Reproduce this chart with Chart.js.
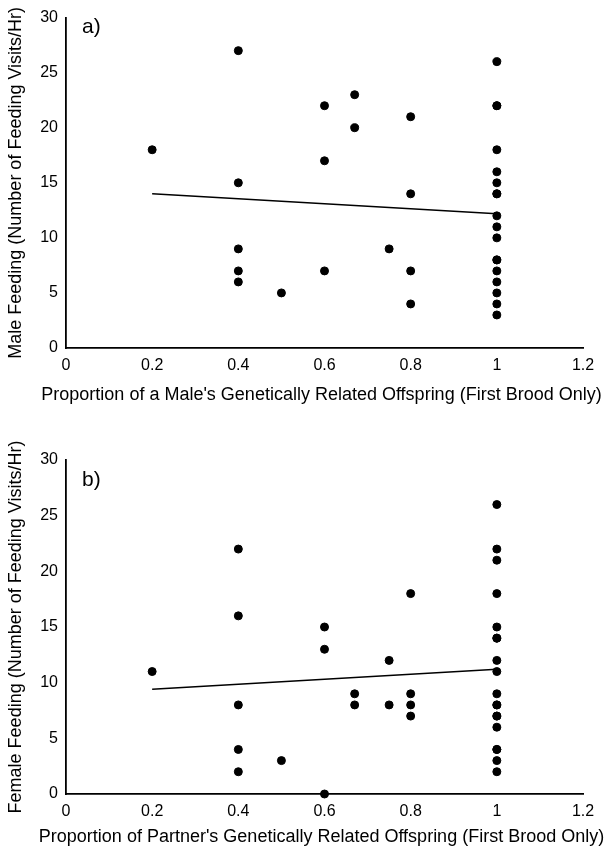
<!DOCTYPE html>
<html>
<head>
<meta charset="utf-8">
<script src="https://cdn.jsdelivr.net/npm/chart.js@4.4.1/dist/chart.umd.min.js"></script>
<style>
  body { margin: 0; background: #fff; }
  canvas { display: block; }
</style>
</head>
<body>
<canvas id="maleChart" width="605" height="415"></canvas>
<canvas id="femaleChart" width="605" height="435"></canvas>
<script>
// tick labels
const xTickLabels = ['0', '0.2', '0.4', '0.6', '0.8', '1', '1.2'];

// a) male feeding vs proportion of own offspring
const maleX = [0.2, 0.4, 0.4, 0.4, 0.4, 0.4, 0.5, 0.6, 0.6, 0.6, 0.67, 0.67, 0.75,
  0.8, 0.8, 0.8, 0.8,
  1, 1, 1, 1, 1, 1, 1, 1, 1, 1, 1, 1, 1, 1, 1, 1, 1, 1];
const maleY = [18, 27, 15, 9, 7, 6, 5, 22, 17, 7, 23, 20, 9,
  21, 14, 7, 4,
  26, 22, 22, 18, 16, 15, 14, 14, 12, 11, 10, 8, 8, 7, 6, 5, 4, 3];
const maleFitX = [0.2, 1];
const maleFitY = [14.0, 12.2];

// b) female feeding vs proportion of partner's offspring
const femaleX = [0.2, 0.4, 0.4, 0.4, 0.4, 0.4, 0.5, 0.6, 0.6, 0.6, 0.67, 0.67, 0.75, 0.75,
  0.8, 0.8, 0.8, 0.8,
  1, 1, 1, 1, 1, 1, 1, 1, 1, 1, 1, 1, 1, 1, 1, 1, 1, 1, 1];
const femaleY = [11, 22, 16, 8, 4, 2, 3, 15, 13, 0, 9, 8, 12, 8,
  18, 9, 8, 7,
  26, 22, 21, 18, 15, 14, 14, 12, 11, 9, 8, 8, 7, 7, 6, 4, 4, 3, 2];
const femaleFitX = [0.2, 1];
const femaleFitY = [9.4, 11.2];

const FONT = "'Liberation Sans', Arial, sans-serif";

function toPoints(xs, ys) {
  return xs.map((x, i) => ({ x: x, y: ys[i] }));
}

// panel letter and axis titles, drawn by hand so the long titles are not squeezed
// to the width of the plot area like the built-in scale titles are
const panelText = {
  id: 'panelText',
  afterDraw(chart, args, opts) {
    const ctx = chart.ctx;
    const area = chart.chartArea;
    ctx.save();
    ctx.fillStyle = '#000';
    ctx.textBaseline = 'middle';

    ctx.font = '21px ' + FONT;
    ctx.textAlign = 'left';
    ctx.fillText(opts.label, area.left + 16, area.top + opts.labelDy);

    ctx.font = '18px ' + FONT;
    ctx.textAlign = 'center';
    ctx.fillText(opts.xTitle, (area.left + area.right) / 2 - 3, chart.height - opts.xTitleUp);

    ctx.translate(16, (area.top + area.bottom) / 2);
    ctx.rotate(-Math.PI / 2);
    ctx.fillText(opts.yTitle, 0, 0);
    ctx.restore();
  }
};

function makeChart(id, xs, ys, fitX, fitY, cfg) {
  const ctx = document.getElementById(id).getContext('2d');
  return new Chart(ctx, {
    type: 'scatter',
    data: {
      datasets: [
        {
          data: toPoints(xs, ys),
          backgroundColor: '#000',
          borderColor: '#000',
          pointRadius: 4,
          pointHoverRadius: 4,
          clip: false
        },
        {
          type: 'line',
          data: toPoints(fitX, fitY),
          borderColor: '#000',
          borderWidth: 1.5,
          pointRadius: 0,
          fill: false
        }
      ]
    },
    plugins: [panelText],
    options: {
      responsive: false,
      animation: false,
      layout: { padding: { top: cfg.top, right: 22, left: 0, bottom: 0 } },
      plugins: {
        legend: { display: false },
        tooltip: { enabled: false },
        panelText: {
          label: cfg.label,
          labelDy: cfg.labelDy,
          xTitle: cfg.xTitle,
          xTitleUp: cfg.xTitleUp,
          yTitle: cfg.yTitle
        }
      },
      scales: {
        x: {
          type: 'linear',
          min: 0,
          max: 1.2,
          afterBuildTicks: (scale) => {
            scale.ticks = xTickLabels.map(t => ({ value: parseFloat(t) }));
          },
          afterFit: (scale) => { scale.height = cfg.xHeight; },
          grid: { display: false, drawTicks: false },
          border: { display: true, color: '#000', width: 1.8 },
          ticks: {
            padding: 8,
            color: '#000',
            font: { family: FONT, size: 16 },
            maxRotation: 0,
            callback: (v, i) => xTickLabels[i]
          }
        },
        y: {
          min: 0,
          max: 30,
          afterFit: (scale) => { scale.width = 66; },
          grid: { display: false, drawTicks: false },
          border: { display: true, color: '#000', width: 1.8 },
          ticks: {
            stepSize: 5,
            padding: 8,
            color: '#000',
            font: { family: FONT, size: 16 }
          }
        }
      }
    }
  });
}

makeChart('maleChart', maleX, maleY, maleFitX, maleFitY, {
  label: 'a)',
  labelDy: 10,
  top: 15,
  xHeight: 67,
  xTitleUp: 20,
  xTitle: "Proportion of a Male's Genetically Related Offspring (First Brood Only)",
  yTitle: 'Male Feeding (Number of Feeding Visits/Hr)'
});

makeChart('femaleChart', femaleX, femaleY, femaleFitX, femaleFitY, {
  label: 'b)',
  labelDy: 20,
  top: 45,
  xHeight: 56,
  xTitleUp: 13,
  xTitle: "Proportion of Partner's Genetically Related Offspring (First Brood Only)",
  yTitle: 'Female Feeding (Number of Feeding Visits/Hr)'
});
</script>
</body>
</html>
